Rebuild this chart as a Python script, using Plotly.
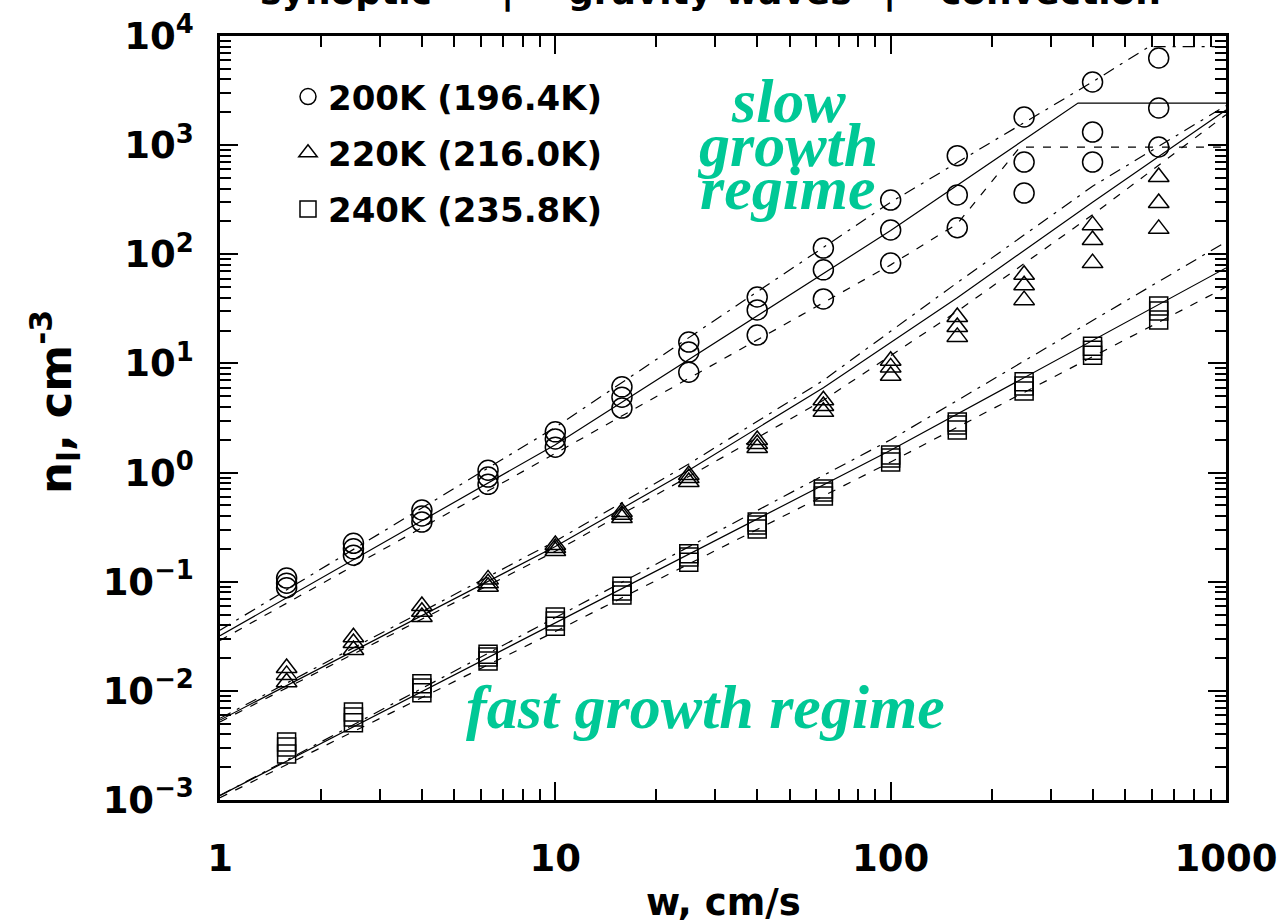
import plotly.graph_objects as go

# ---------------- data ----------------
w_pts = [1.58, 2.5, 4.0, 6.3, 10, 15.8, 25, 40, 63, 100, 158, 250, 400, 630]

# 200K circles: three values at each w
n200_a = [0.108, 0.225, 0.454, 1.05, 2.36, 6.1, 15.7, 40.6, 114, 314, 800, 1810, 3790, 6290]
n200_b = [0.097, 0.200, 0.400, 0.91, 2.03, 4.9, 12.7, 30.9, 72, 167, 350, 700, 1318, 2190]
n200_c = [0.088, 0.175, 0.352, 0.78, 1.71, 3.9, 8.3, 18.2, 39, 83, 175, 364, 700, 962]

# 220K triangles
n220_a = [0.0162, 0.031, 0.060, 0.105, 0.217, 0.435, 0.95, 1.99, 4.6, 10.6, 26.6, 65, 185, 510]
n220_b = [0.0140, 0.0274, 0.053, 0.097, 0.204, 0.410, 0.89, 1.83, 4.07, 9.2, 21.6, 52, 135, 295]
n220_c = [0.0120, 0.0237, 0.0475, 0.090, 0.191, 0.384, 0.82, 1.68, 3.6, 7.7, 17.5, 38, 83, 171]

# 240K squares
n240_a = [0.0034, 0.0064, 0.0116, 0.0217, 0.0475, 0.091, 0.180, 0.352, 0.706, 1.45, 2.90, 6.8, 14.4, 33.6]
n240_b = [0.00306, 0.00575, 0.0106, 0.0204, 0.0437, 0.082, 0.168, 0.331, 0.663, 1.36, 2.73, 6.2, 13.2, 30.2]
n240_c = [0.00264, 0.0051, 0.0096, 0.0188, 0.039, 0.0755, 0.151, 0.304, 0.610, 1.25, 2.46, 5.6, 11.9, 25.0]

# model curves
w200_up = [1, 10, 100, 400, 590, 1000]
n200_up = [0.036, 2.6, 300, 3800, 8000, 8000]
w200_mid = [1, 10, 100, 362, 1000]
n200_mid = [0.032, 1.8, 165, 2430, 2430]
w200_lo = [1, 10, 100, 158, 243, 1000]
n200_lo = [0.029, 1.5, 80, 190, 960, 960]

w220_line = [1, 10, 25, 63, 158, 400, 1000]
n220_up = [0.0056, 0.235, 1.2, 7.0, 55, 420, 2300]
n220_mid = [0.0054, 0.21, 1.05, 6.0, 40, 300, 2100]
n220_lo = [0.0052, 0.19, 0.92, 4.6, 30, 230, 1900]

w240_line = [1, 10, 100, 1000]
n240_up = [0.0011, 0.047, 2.0, 130]
n240_mid = [0.0011, 0.042, 1.6, 75]
n240_lo = [0.00105, 0.035, 1.25, 50]

legend_names = ["200K (196.4K)", "220K (216.0K)", "240K (235.8K)"]
y_tickvals = [1e-3, 1e-2, 1e-1, 1e0, 1e1, 1e2, 1e3, 1e4]
y_ticktext = ["10<sup>−3</sup>", "10<sup>−2</sup>", "10<sup>−1</sup>", "10<sup>0</sup>",
              "10<sup>1</sup>", "10<sup>2</sup>", "10<sup>3</sup>", "10<sup>4</sup>"]
x_tickvals = [1, 10, 100, 1000]
x_ticktext = ["1", "10", "100", "1000"]

# ---------------- figure ----------------
W, H = 1278, 923
L, R, T, B = 220, 52, 36, 123
PW, PH = W - L - R, H - T - B


def px_x(x):
    return (x - L) / PW


def px_y(y):
    return (H - B - y) / PH


fig = go.Figure()

UP_DASH = "12px,7px,3px,7px"
LO_DASH = "8px,9px"
LW = 1.2

for wl, nl, dash in [
    (w200_up, n200_up, UP_DASH), (w200_mid, n200_mid, "solid"), (w200_lo, n200_lo, LO_DASH),
    (w220_line, n220_up, UP_DASH), (w220_line, n220_mid, "solid"), (w220_line, n220_lo, LO_DASH),
    (w240_line, n240_up, UP_DASH), (w240_line, n240_mid, "solid"), (w240_line, n240_lo, LO_DASH),
]:
    fig.add_trace(go.Scatter(x=wl, y=nl, mode="lines", showlegend=False, hoverinfo="skip",
                             line=dict(color="black", width=LW, dash=dash)))

series = [
    (legend_names[0], [n200_a, n200_b, n200_c], "circle-open", 20),
    (legend_names[1], [n220_a, n220_b, n220_c], "triangle-up-open", 18),
    (legend_names[2], [n240_a, n240_b, n240_c], "square-open", 18),
]
for gi, (name, vals, sym, size) in enumerate(series):
    xs, ys = [], []
    for v in vals:
        xs += w_pts
        ys += v
    fig.add_trace(go.Scatter(x=xs, y=ys, mode="markers", name=name, legendgroup=str(gi),
                             marker=dict(symbol=sym, size=size, color="black",
                                         line=dict(color="black", width=1.5))))

tick_font = dict(family="DejaVu Sans", size=37, color="black", weight="bold")
minor_y = [m * 10 ** e for e in range(-3, 4) for m in range(2, 10)]
minor_x = [m * 10 ** e for e in range(0, 3) for m in range(2, 10)]

fig.update_layout(
    width=W, height=H,
    margin=dict(l=L, r=R, t=T, b=B, pad=0, autoexpand=False),
    paper_bgcolor="white", plot_bgcolor="white",
    xaxis=dict(type="log", range=[0, 3], tickmode="array", tickvals=x_tickvals, ticktext=x_ticktext,
               ticks="inside", ticklen=18, tickwidth=2, tickcolor="black",
               minor=dict(tickmode="array", tickvals=minor_x, ticks="inside", ticklen=11,
                          tickwidth=1.5, tickcolor="black", showgrid=False),
               showline=True, linecolor="black", linewidth=2.5, mirror="allticks",
               showgrid=False, zeroline=False, tickfont=tick_font, ticklabelstandoff=24,
               automargin=False),
    yaxis=dict(type="log", range=[-3, 4], tickmode="array", tickvals=y_tickvals, ticktext=y_ticktext,
               ticks="inside", ticklen=18, tickwidth=2, tickcolor="black",
               minor=dict(tickmode="array", tickvals=minor_y, ticks="inside", ticklen=11,
                          tickwidth=1.5, tickcolor="black", showgrid=False),
               showline=True, linecolor="black", linewidth=2.5, mirror="allticks",
               showgrid=False, zeroline=False, tickfont=tick_font, ticklabelstandoff=16,
               automargin=False),
    legend=dict(x=px_x(288), y=px_y(68), xanchor="left", yanchor="top",
                bgcolor="rgba(0,0,0,0)", borderwidth=0, traceorder="grouped",
                tracegroupgap=9, itemwidth=30,
                font=dict(family="DejaVu Sans", size=34, color="black", weight="bold")),
    showlegend=True,
)

ann_font = dict(family="DejaVu Sans", size=37, color="black", weight="bold")
annotations = [
    dict(text="w, cm/s", x=0.5, y=px_y(902), xref="paper", yref="paper",
         xanchor="center", yanchor="middle", showarrow=False, font=ann_font),
    dict(text="n<sub>l</sub>, cm<sup>-3</sup>", x=px_x(55), y=px_y(402), xref="paper", yref="paper",
         xanchor="center", yanchor="middle", textangle=-90, showarrow=False,
         font=dict(family="DejaVu Sans", size=45, color="black", weight="bold")),
]
for txt, xc in [("synoptic", 346), ("|", 507), ("gravity waves", 710), ("|", 889), ("convection", 1050)]:
    annotations.append(dict(text=txt, x=px_x(xc), y=px_y(14), xref="paper", yref="paper",
                            xanchor="center", yanchor="bottom", showarrow=False,
                            font=dict(family="DejaVu Sans", size=36, color="black", weight="bold")))

teal = dict(family="Liberation Serif", size=62, color="#00C896", weight="bold", style="italic")
for txt, xc, yc in [("slow", 788, 101), ("growth", 787, 145), ("regime", 788, 188),
                    ("fast growth regime", 705, 707)]:
    annotations.append(dict(text=txt, x=px_x(xc), y=px_y(yc), xref="paper", yref="paper",
                            xanchor="center", yanchor="middle", showarrow=False, font=teal))

fig.update_layout(annotations=annotations)

fig.write_html("out.html")
